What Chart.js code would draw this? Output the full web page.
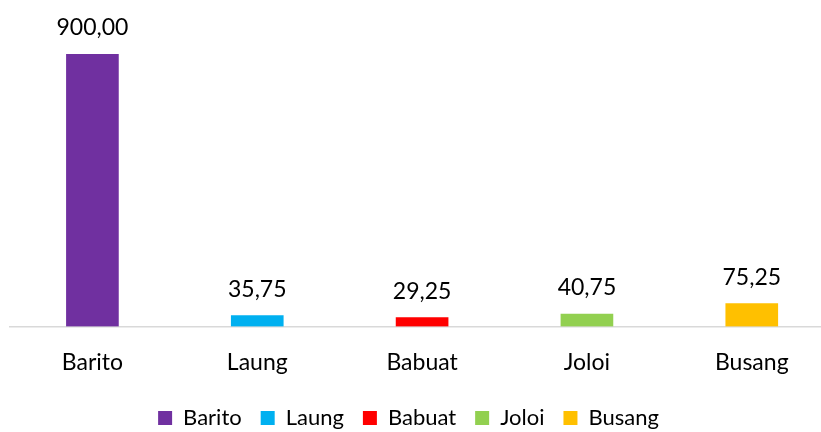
<!DOCTYPE html>
<html>
<head>
<meta charset="utf-8">
<script src="https://cdn.jsdelivr.net/npm/chart.js@4.4.1/dist/chart.umd.min.js"></script>
<style>
  body { margin: 0; background: #fff; }
  canvas { display: block; }
</style>
</head>
<body>
<canvas id="riverChart" width="821" height="432"></canvas>
<script>
// data
const rivers = ['Barito', 'Laung', 'Babuat', 'Joloi', 'Busang'];
const lengths = [900.00, 35.75, 29.25, 40.75, 75.25];
const barColors = ['#7030A0', '#00B0F0', '#FF0000', '#92D050', '#FFC000'];

const FONT = 'Lato';

function fmtValue(v) {
    return v.toFixed(2).replace('.', ',');
}

// value labels above each bar (no datalabels plugin available)
const valueLabels = {
    id: 'valueLabels',
    afterLayout(chart) {
        // legend sits a little left of centre in the original
        chart.legend.left -= 7;
        chart.legend.right -= 7;
    },
    afterDatasetsDraw(chart) {
        const ctx = chart.ctx;
        const meta = chart.getDatasetMeta(0);
        ctx.save();
        ctx.font = '23px ' + FONT;
        ctx.fillStyle = '#000';
        ctx.textAlign = 'center';
        ctx.textBaseline = 'alphabetic';
        meta.data.forEach((bar, i) => {
            ctx.fillText(fmtValue(lengths[i]), bar.x, bar.y - 19);
        });
        ctx.restore();
    }
};

const ctx = document.getElementById('riverChart').getContext('2d');
new Chart(ctx, {
    type: 'bar',
    data: {
        datasets: [{
            data: lengths.map((v, i) => ({ x: i, y: v })),
            backgroundColor: barColors,
            borderWidth: 0,
            barThickness: 52
        }]
    },
    options: {
        responsive: false,
        animation: false,
        layout: { padding: { top: 54, left: 10, right: 0, bottom: -7 } },
        scales: {
            x: {
                type: 'linear',
                offset: false,
                min: -0.5,
                max: 4.42,
                grid: { display: false, drawTicks: false },
                border: { color: '#d9d9d9', width: 1.5 },
                // one tick per river, at the bar centres
                afterBuildTicks: scale => {
                    scale.ticks = rivers.map((_, i) => ({ value: i }));
                },
                afterFit: scale => {
                    scale.height -= 10;
                },
                ticks: {
                    autoSkip: false,
                    maxRotation: 0,
                    padding: 22,
                    color: '#000',
                    font: { family: FONT, size: 23 },
                    callback: v => rivers[v]
                }
            },
            y: {
                display: false,
                min: 0,
                max: 900
            }
        },
        plugins: {
            tooltip: { enabled: false },
            legend: {
                position: 'bottom',
                onClick: null,
                labels: {
                    boxWidth: 14,
                    boxHeight: 14,
                    padding: 19,
                    color: '#000',
                    font: { family: FONT, size: 22 },
                    generateLabels: () => rivers.map((name, i) => ({
                        text: name,
                        fillStyle: barColors[i],
                        strokeStyle: barColors[i],
                        lineWidth: 0,
                        hidden: false,
                        index: i
                    }))
                }
            }
        }
    },
    plugins: [valueLabels]
});
</script>
</body>
</html>
